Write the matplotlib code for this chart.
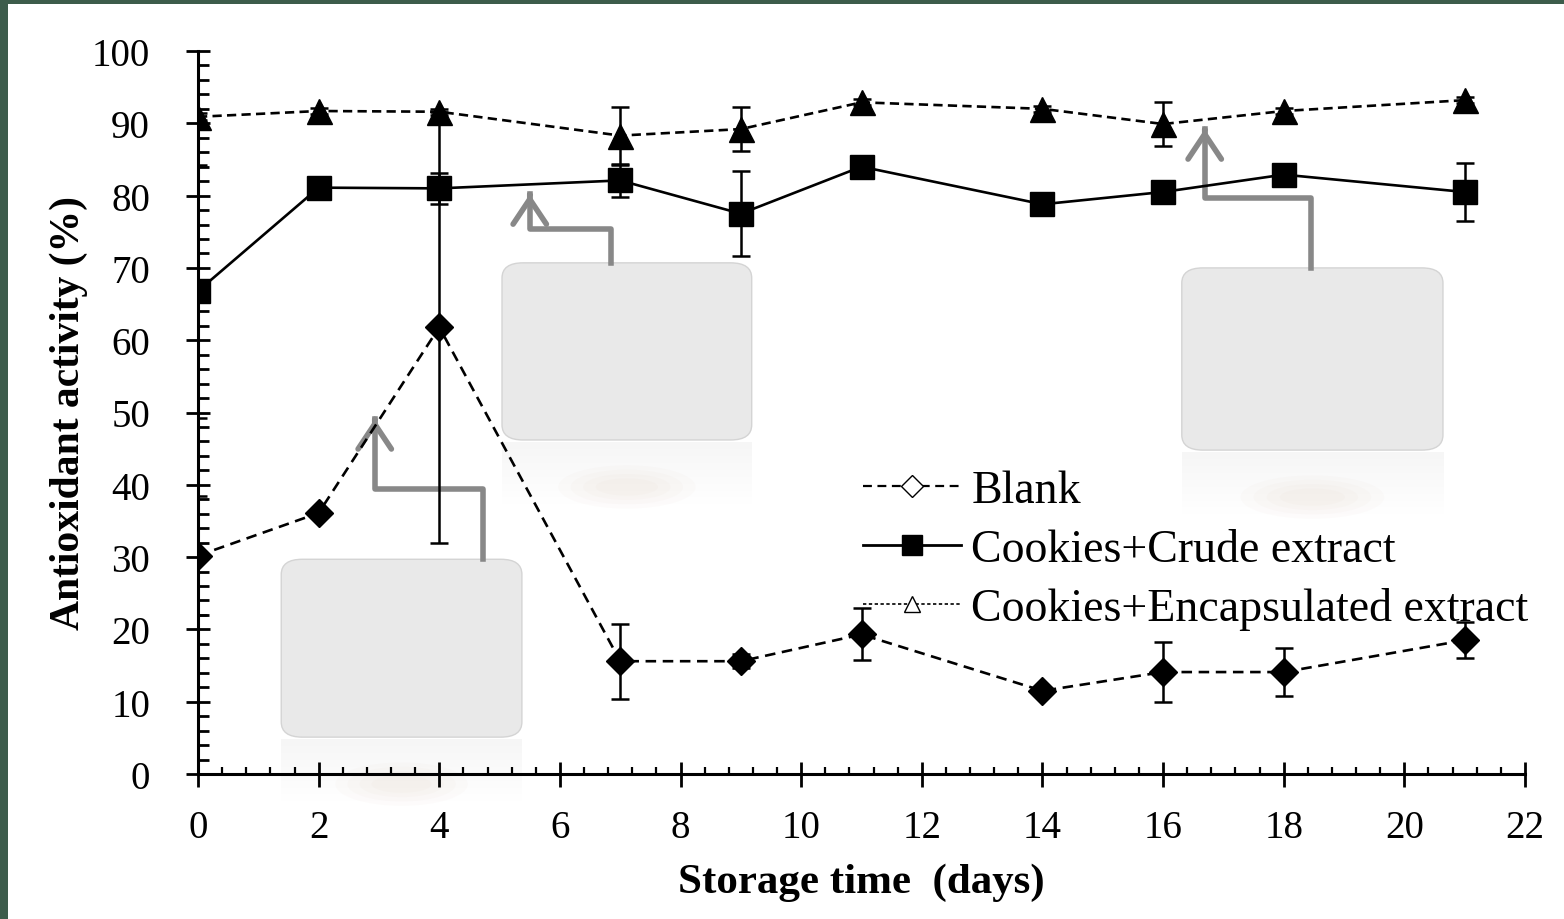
import numpy as np
import matplotlib.pyplot as plt
from matplotlib.patches import FancyBboxPatch, Rectangle, Ellipse
from matplotlib.lines import Line2D
from matplotlib.ticker import MultipleLocator

plt.rcParams['font.family'] = ['Liberation Serif', 'DejaVu Serif']

# data
days = [0, 2, 4, 7, 9, 11, 14, 16, 18, 21]
blank = [30.2, 36.1, 61.8, 15.6, 15.6, 19.3, 11.5, 14.1, 14.1, 18.5]
blank_err = [8.2, 0.4, 29.8, 5.2, 1.0, 3.6, 0.5, 4.2, 3.3, 2.5]
crude = [66.8, 81.1, 81.0, 82.1, 77.5, 84.0, 78.8, 80.5, 82.9, 80.5]
crude_err = [17.5, 0.4, 2.1, 2.3, 5.9, 0.4, 0.5, 0.5, 1.1, 4.0]
encap = [90.9, 91.7, 91.6, 88.3, 89.2, 92.9, 92.0, 89.9, 91.7, 93.2]
encap_err = [0.5, 0.4, 0.4, 4.0, 3.0, 0.4, 0.4, 3.0, 0.4, 0.4]

fig = plt.figure(figsize=(15.64, 9.2), dpi=100)
fig.patch.set_facecolor('#3d5c4b')
fig.patches.append(Rectangle((8 / 1564, 0), 1, 1 - 5 / 920, transform=fig.transFigure,
                             facecolor='white', edgecolor='none', zorder=-10))
ax = fig.add_axes([198 / 1564, 1 - 775 / 920, (1525 - 198) / 1564, (775 - 52) / 920])
ax.set_facecolor('none')

eb = dict(ecolor='black', elinewidth=1.8, capsize=6.5, capthick=1.8, color='black', zorder=5)
ax.errorbar(days, blank, yerr=blank_err, fmt='D', ls=(0, (4, 2.5)), lw=1.9, ms=14, **eb)
ax.errorbar(days, crude, yerr=crude_err, fmt='s', ls='-', lw=1.9, ms=17, **eb)
ax.errorbar(days, encap, yerr=encap_err, fmt='^', ls=(0, (3.5, 2)), lw=1.9, ms=18, **eb)

# grey callout boxes with elbow arrows (image placeholders)
boxes = [(1.38, 5.1, 3.99, 24.6), (5.04, 46.2, 4.14, 24.5), (16.31, 44.8, 4.33, 25.2)]
arrows = [[(4.72, 29.7), (4.72, 39.4), (2.93, 39.4), (2.93, 49.1)],
          [(6.85, 70.7), (6.85, 75.4), (5.50, 75.4), (5.50, 80.2)],
          [(18.45, 70.0), (18.45, 79.7), (16.69, 79.7), (16.69, 89.2)]]
grad = np.linspace(0.965, 1.0, 50)[:, None] * np.ones((50, 10))
for (bx, by, bw, bh), pts in zip(boxes, arrows):
    ax.add_patch(FancyBboxPatch((bx, by), bw, bh, boxstyle='round,pad=0,rounding_size=0.35',
                                mutation_aspect=6.0, facecolor='#e9e9e9', edgecolor='#d4d4d4',
                                lw=1, zorder=2, clip_on=False))
    ax.imshow(np.dstack([grad] * 3), extent=(bx, bx + bw, by - 9, by - 0.3), aspect='auto',
              zorder=1, clip_on=False, vmin=0, vmax=1)
    for k in range(4):
        ax.add_patch(Ellipse((bx + bw / 2, by - 6.5), bw * (0.55 - 0.1 * k), 6 - 1.2 * k,
                             facecolor='#d9b8a8', edgecolor='none', alpha=0.045,
                             zorder=1.5, clip_on=False))
    xs, ys = zip(*pts)
    ax.plot(xs, ys, color='#888888', lw=4, solid_joinstyle='round', zorder=3, clip_on=False)
    ax.annotate('', xy=pts[-1], xytext=(pts[-1][0], pts[-1][1] - 0.5),
                arrowprops=dict(arrowstyle='->,head_length=0.9,head_width=0.6', color='#888888',
                                lw=4, mutation_scale=20), zorder=3)

ax.set_xlim(0, 22)
ax.set_ylim(0, 100)
ax.xaxis.set_major_locator(MultipleLocator(2))
ax.xaxis.set_minor_locator(MultipleLocator(0.4))
ax.yaxis.set_major_locator(MultipleLocator(10))
ax.yaxis.set_minor_locator(MultipleLocator(2))
for s in ['top', 'right']:
    ax.spines[s].set_visible(False)
for s in ['left', 'bottom']:
    ax.spines[s].set_linewidth(2.2)
    ax.spines[s].set_zorder(6)
ax.tick_params(axis='y', which='major', direction='inout', length=17, width=2, pad=26, labelsize=28)
ax.tick_params(axis='y', which='minor', direction='in', length=8, width=2)
ax.tick_params(axis='x', which='major', direction='inout', length=18, width=2, pad=16, labelsize=28)
ax.tick_params(axis='x', which='minor', direction='in', length=5, width=1.6)

ax.set_xlabel('Storage time  (days)', fontsize=31, fontweight='bold', labelpad=12)
ax.set_ylabel('Antioxidant activity (%)', fontsize=30, fontweight='bold', labelpad=3)

handles = [Line2D([], [], color='black', ls=(0, (4, 2.5)), lw=1.6, marker='D', ms=11,
                  mfc='white', mec='black'),
           Line2D([], [], color='black', ls='-', lw=2, marker='s', ms=15),
           Line2D([], [], color='black', ls=(0, (2, 1.5)), lw=1.2, marker='^', ms=11,
                  mfc='white', mec='black')]
ax.legend(handles, ['Blank', 'Cookies+Crude extract', 'Cookies+Encapsulated extract'],
          loc='upper left', bbox_to_anchor=(0.487, 0.447), frameon=False, fontsize=33,
          handlelength=2.15, handletextpad=0.22, labelspacing=0.36, borderaxespad=0)

fig.savefig('out.png', dpi=100, facecolor=fig.get_facecolor())
